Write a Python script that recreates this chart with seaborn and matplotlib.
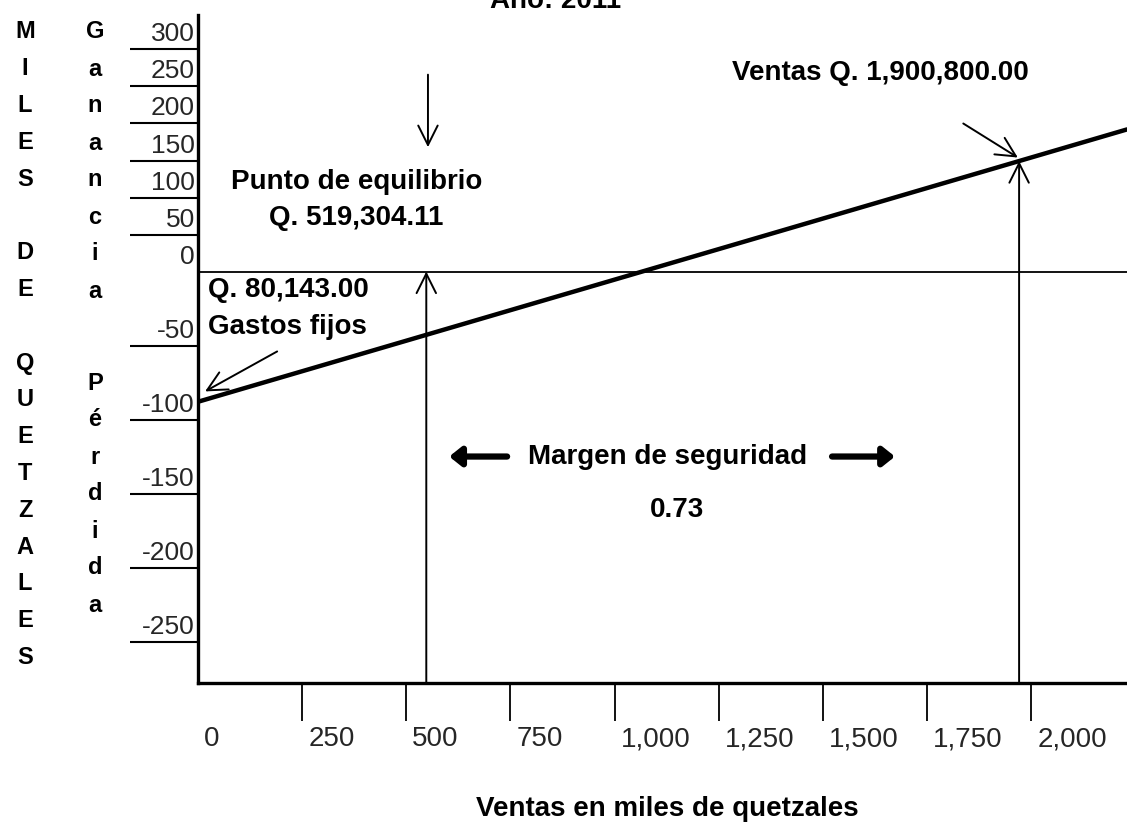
import matplotlib
matplotlib.use("Agg")
import matplotlib.pyplot as plt
import seaborn as sns
import pandas as pd
from matplotlib.transforms import ScaledTranslation

# Datos (miles de quetzales)
ventas = [0, 2230]
resultado = [-88, 96]
punto_equilibrio_x = 548
ventas_x = 1971
ventas_y = 74.6
x_ticks = [0, 250, 500, 750, 1000, 1250, 1500, 1750, 2000]
y_ticks = [300, 250, 200, 150, 100, 50, 0, -50, -100, -150, -200, -250]

df = pd.DataFrame({"Ventas": ventas, "Resultado": resultado})

sns.set_theme(style="white")
plt.rcParams["font.family"] = ["Liberation Sans", "DejaVu Sans"]

W, H = 1127, 827
fig = plt.figure(figsize=(W / 100, H / 100), dpi=100)
ax = fig.add_axes([198 / W, 1 - 683 / H, (W - 198) / W, (683 - 15) / H])

sns.lineplot(data=df, x="Ventas", y="Resultado", ax=ax, color="black", linewidth=3.2)

ax.set_xlim(0, 2230)
ax.set_ylim(-278, 173.3)

# ejes
for s in ["top", "right"]:
    ax.spines[s].set_visible(False)
for s in ["left", "bottom"]:
    ax.spines[s].set_color("black")
    ax.spines[s].set_linewidth(2.4)

ax.axhline(0, color="black", lw=1.3)

# ticks x
ax.set_xticks(x_ticks)
ax.set_xticklabels([f"{v:,}" for v in x_ticks])
ax.tick_params(axis="x", direction="out", length=27, width=1.3, color="black",
               labelsize=20, pad=4, bottom=True)
# ticks y (escala distinta para ganancia y pérdida)
y_pos = [v / 2 if v > 0 else v for v in y_ticks]
ax.set_yticks(y_pos)
ax.set_yticklabels([str(v) for v in y_ticks])
ax.tick_params(axis="y", direction="out", length=49, width=1.5, color="black",
               labelsize=19, pad=-46.8, left=True)
ax.set_xlabel("")
ax.set_ylabel("")

for lab in ax.get_xticklabels():
    lab.set_horizontalalignment("left")
    lab.set_transform(lab.get_transform() + ScaledTranslation(0.06, 0, fig.dpi_scale_trans))
for lab in ax.get_yticklabels():
    lab.set_verticalalignment("baseline")
    lab.set_transform(lab.get_transform() + ScaledTranslation(0, 0.08, fig.dpi_scale_trans))

ax.xaxis.get_major_ticks()[0].tick1line.set_visible(False)
ax.yaxis.get_major_ticks()[y_ticks.index(0)].tick1line.set_visible(False)

bold = dict(fontsize=20, fontweight="bold", color="black")

# flechas verticales
thin = dict(arrowstyle="->,head_length=0.7,head_width=0.35", color="black", lw=1.4,
            shrinkA=0, shrinkB=0, mutation_scale=20)
ax.annotate("", xy=(punto_equilibrio_x, 0), xytext=(punto_equilibrio_x, -278), arrowprops=thin)
ax.annotate("", xy=(ventas_x, ventas_y), xytext=(ventas_x, -278), arrowprops=thin)
ax.annotate("", xy=(552, 84), xytext=(552, 133), arrowprops=thin)
ax.annotate("", xy=(1968, 77), xytext=(1837, 100), arrowprops=thin)
ax.annotate("", xy=(17, -81), xytext=(190, -54), arrowprops=thin)

# textos
ax.text(1637, 134, "Ventas Q. 1,900,800.00", ha="center", va="center", **bold)
ax.text(382, 60.5, "Punto de equilibrio", ha="center", va="center", **bold)
ax.text(380, 36, "Q. 519,304.11", ha="center", va="center", **bold)
ax.text(24, -12.5, "Q. 80,143.00", ha="left", va="center", **bold)
ax.text(24, -37.5, "Gastos fijos", ha="left", va="center", **bold)
ax.text(1128, -125, "Margen de seguridad", ha="center", va="center", **bold)
ax.text(1150, -161, "0.73", ha="center", va="center", **bold)

thick = dict(arrowstyle="-|>,head_length=0.5,head_width=0.4", color="black", lw=4.5,
             shrinkA=0, shrinkB=0, mutation_scale=14)
ax.annotate("", xy=(603, -125), xytext=(742, -125), arrowprops=thick)
ax.annotate("", xy=(1673, -125), xytext=(1522, -125), arrowprops=thick)

# titulo cortado
fig.text(556 / W, 1 - 8 / H, "Año: 2011", ha="center", va="baseline", **bold)
fig.text(667 / W, 1 - 809 / H, "Ventas en miles de quetzales", ha="center", va="center", **bold)

# rótulos verticales
letters = dict(fontsize=17, fontweight="bold", color="black", ha="center", va="center")
for i, ch in enumerate("MILES DE QUETZALES"):
    if ch != " ":
        fig.text(25 / W, 1 - (32 + i * 36.8) / H, ch, **letters)
for i, ch in enumerate("Ganancia"):
    fig.text(95 / W, 1 - (32 + i * 37) / H, ch, **letters)
for i, ch in enumerate("Pérdida"):
    fig.text(95 / W, 1 - (383 + i * 37) / H, ch, **letters)

fig.savefig("out.png", dpi=100)
